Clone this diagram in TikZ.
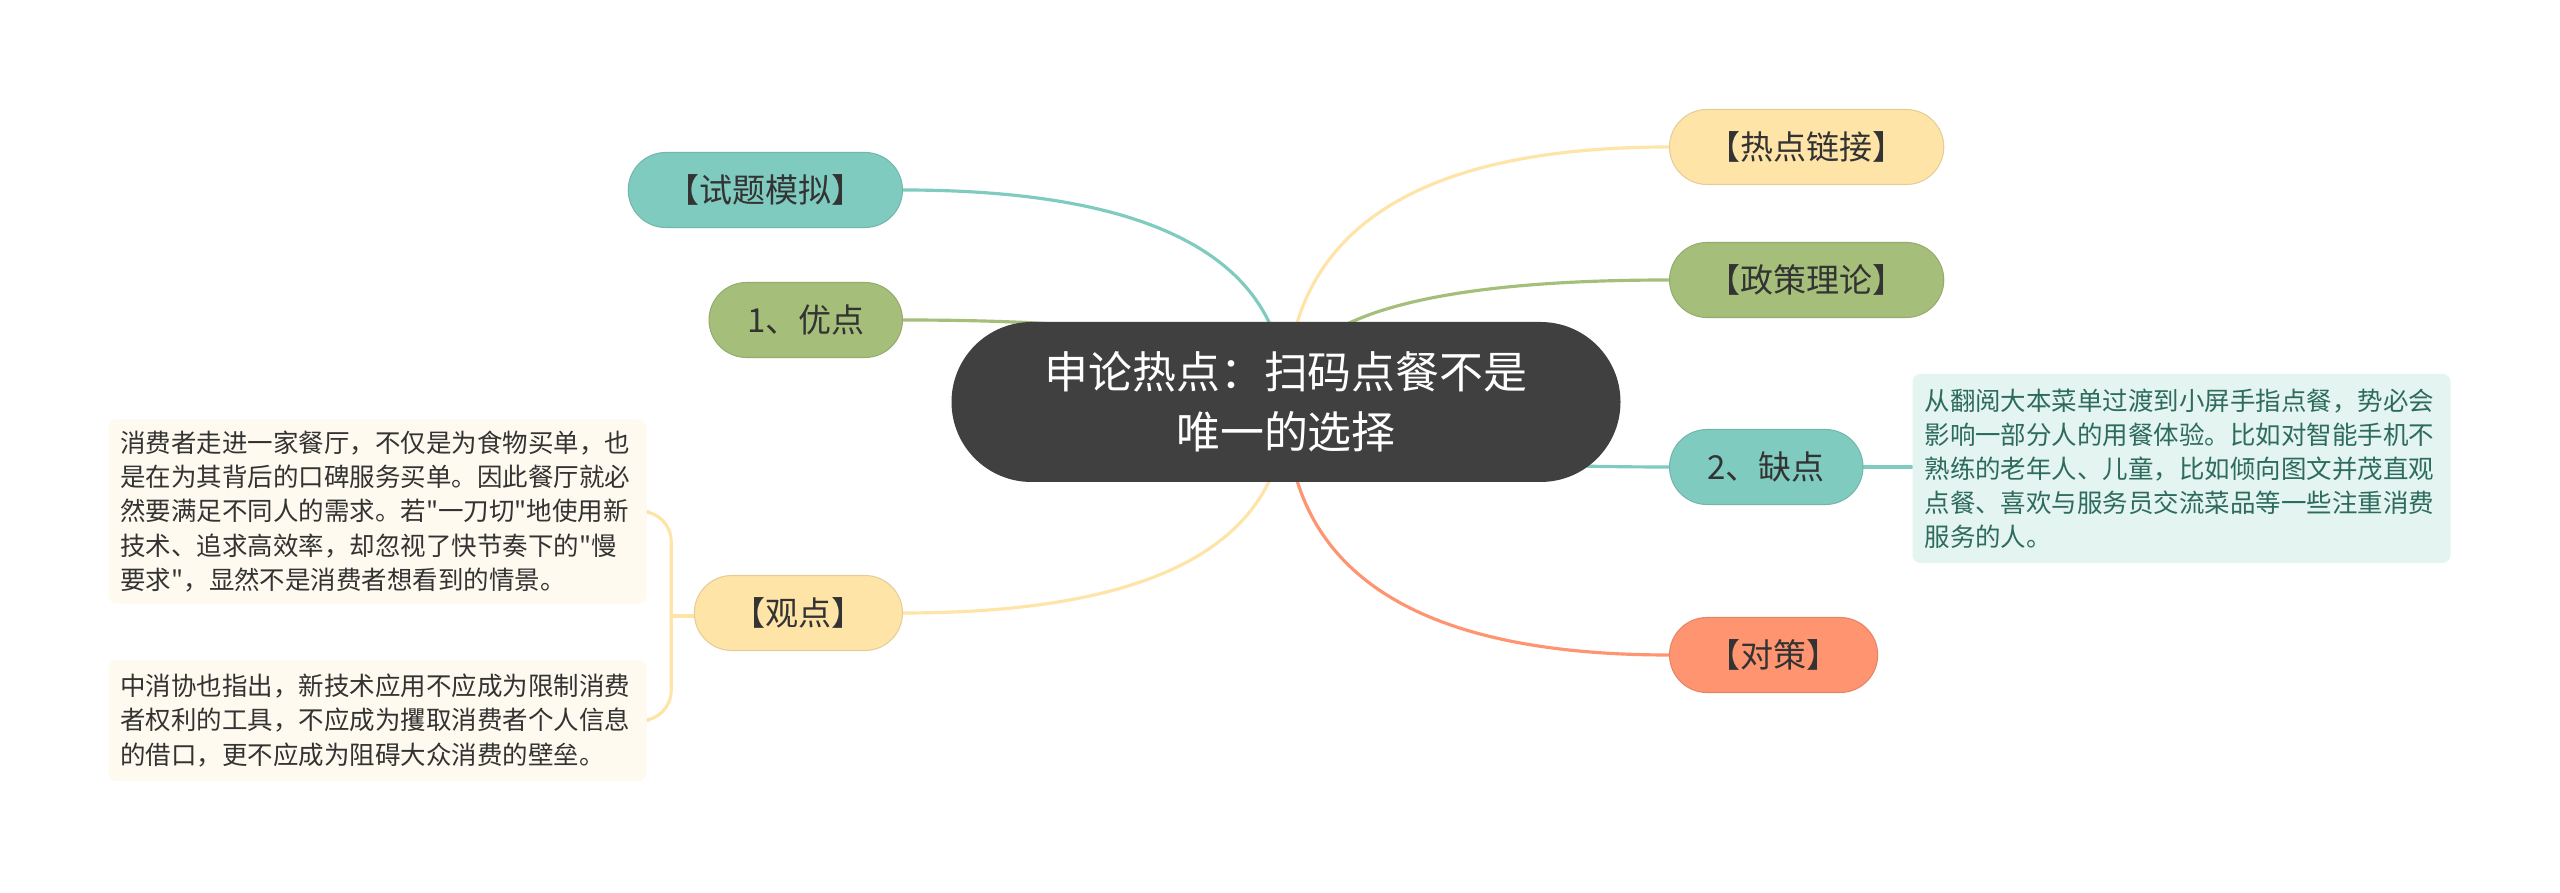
\documentclass[tikz,border=0pt]{standalone}
\usepackage{fontspec}
\newfontfamily\cjk{Noto Sans CJK SC}
\usetikzlibrary{positioning, calc, backgrounds}

\definecolor{mmTeal}{HTML}{80CBBF}
\definecolor{mmGreen}{HTML}{A5BF7A}
\definecolor{mmYellow}{HTML}{FFE4A8}
\definecolor{mmOrange}{HTML}{FF9470}
\definecolor{mmCore}{HTML}{404040}
\definecolor{ink}{HTML}{333333}
\definecolor{noteCream}{HTML}{FFFAEF}
\definecolor{noteMint}{HTML}{E4F4F0}
\definecolor{mintInk}{HTML}{2D6B5E}

\begin{document}
\begin{tikzpicture}[
  font=\cjk,
  core/.style={fill=mmCore, text=white, rounded corners=0.8cm, minimum width=6.69cm, minimum height=1.6cm, align=center, font=\cjk\fontsize{12.5}{17}\selectfont},
  branch/.style={fill=#1, draw=#1!90!black, line width=0.3pt, rounded corners=0.375cm, minimum height=0.75cm, inner xsep=0.38cm, inner ysep=0pt, text=ink, font=\cjk\fontsize{9.4}{11}\selectfont},
  note/.style={fill=#1, rounded corners=0.08cm, text width=5.14cm, inner xsep=0.12cm, align=left, font=\cjk\fontsize{7.25}{9.7}\selectfont},
  link/.style={line width=0.9pt, line cap=round},
  bracket/.style={line width=0.9pt, draw=mmYellow, rounded corners=0.3cm}
]
\useasboundingbox (0,0) rectangle (25.6,-8.93);

% Central topic
\node[core] (core) at (12.86,-4.02) {申论热点：扫码点餐不是\\唯一的选择};

% Left branches
\node[branch=mmTeal, anchor=east] (shiti) at (9.03,-1.90) {【试题模拟】};
\node[branch=mmGreen, anchor=east] (youdian) at (9.03,-3.20) {1、优点};
\node[branch=mmYellow, anchor=east] (guandian) at (9.03,-6.13) {【观点】};

% Right branches
\node[branch=mmYellow, anchor=west] (redian) at (16.69,-1.47) {【热点链接】};
\node[branch=mmGreen, anchor=west] (zhengce) at (16.69,-2.80) {【政策理论】};
\node[branch=mmTeal, anchor=west] (quedian) at (16.69,-4.67) {2、缺点};
\node[branch=mmOrange, anchor=west] (duice) at (16.69,-6.55) {【对策】};

% Notes
\node[note=noteCream, text=ink, minimum height=1.83cm] (note1) at (3.775,-5.115) {消费者走进一家餐厅，不仅是为食物买单，也\\是在为其背后的口碑服务买单。因此餐厅就必\\然要满足不同人的需求。若"一刀切"地使用新\\技术、追求高效率，却忽视了快节奏下的"慢\\要求"，显然不是消费者想看到的情景。};
\node[note=noteCream, text=ink, minimum height=1.21cm] (note2) at (3.775,-7.205) {中消协也指出，新技术应用不应成为限制消费\\者权利的工具，不应成为攫取消费者个人信息\\的借口，更不应成为阻碍大众消费的壁垒。};
\node[note=noteMint, text=mintInk, minimum height=1.89cm] (note3) at (21.815,-4.685) {从翻阅大本菜单过渡到小屏手指点餐，势必会\\影响一部分人的用餐体验。比如对智能手机不\\熟练的老年人、儿童，比如倾向图文并茂直观\\点餐、喜欢与服务员交流菜品等一些注重消费\\服务的人。};

% Connectors behind the nodes
\begin{scope}[on background layer]
  \fill[white] (0,0) rectangle (25.6,-8.93);
  \foreach \b/\a/\c in {shiti/east/mmTeal, youdian/east/mmGreen, guandian/east/mmYellow,
                        redian/west/mmYellow, zhengce/west/mmGreen, quedian/west/mmTeal, duice/west/mmOrange} {
    \coordinate (k) at (core.center |- \b.\a);
    \draw[link, draw=\c] (core.center) .. controls ($(core.center)!2/3!(k)$) and ($(\b.\a)!2/3!(k)$) .. (\b.\a);
  }
  \draw[link, draw=mmTeal] (quedian.east) -- (quedian.east -| note3.west);

  % bracket grouping the two notes
  \coordinate (tip) at ($(note1.east)!0.5!(note2.east) + (0.24,0)$);
  \draw[bracket] ($(note1.east) + (0.02,0)$) -| (tip) |- ($(note2.east) + (0.02,0)$);
  \draw[link, draw=mmYellow] (tip) -- (tip -| guandian.west);
\end{scope}

\end{tikzpicture}
\end{document}
